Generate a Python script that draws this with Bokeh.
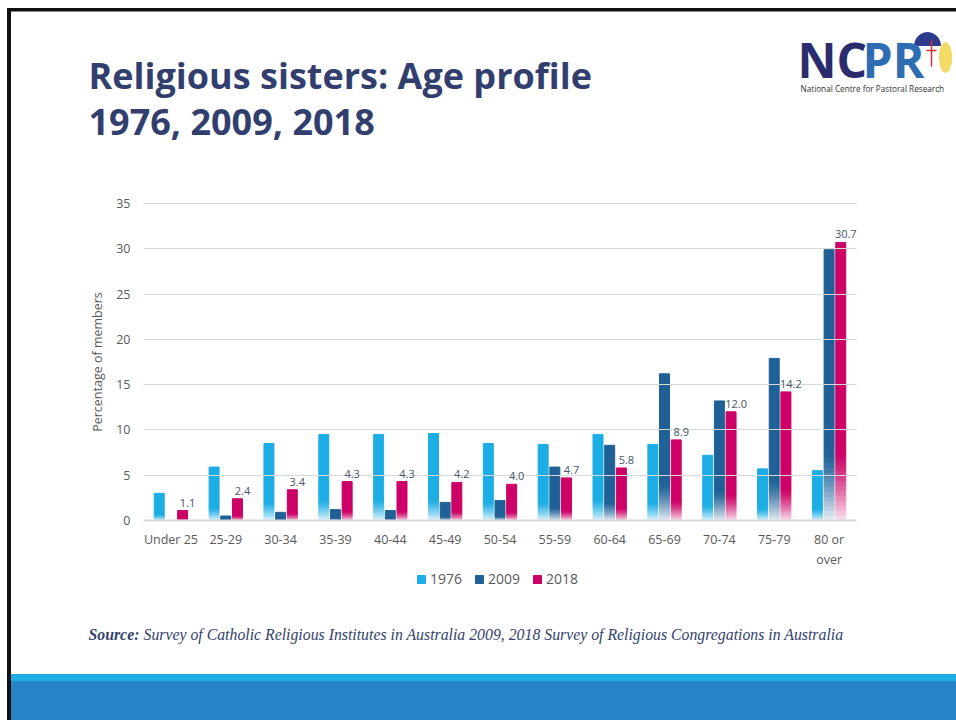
from bokeh.plotting import figure
from bokeh.models import (Range1d, Label, Legend, LegendItem, ColumnDataSource, LabelSet,
                          FixedTicker, LinearAxis)
from bokeh.core.properties import value
from bokeh.embed import file_html
from bokeh.resources import INLINE

# ---------------- data ----------------
age_groups = ["Under 25", "25-29", "30-34", "35-39", "40-44", "45-49", "50-54",
              "55-59", "60-64", "65-69", "70-74", "75-79", "80 or\nover"]
pct_1976 = [3.0, 5.9, 8.5, 9.5, 9.5, 9.6, 8.5, 8.4, 9.5, 8.4, 7.2, 5.7, 5.5]
pct_2009 = [0.0, 0.5, 0.9, 1.2, 1.1, 2.0, 2.2, 5.9, 8.3, 16.2, 13.2, 17.9, 29.9]
pct_2018 = [1.1, 2.4, 3.4, 4.3, 4.3, 4.2, 4.0, 4.7, 5.8, 8.9, 12.0, 14.2, 30.7]
series_names = ["1976", "2009", "2018"]
y_ticks = [0, 5, 10, 15, 20, 25, 30, 35]

title_lines = ["Religious sisters: Age profile", "1976, 2009, 2018"]
source_label = "Source:"
source_text = ("Survey of Catholic Religious Institutes in Australia 2009, "
               "2018 Survey of Religious Congregations in Australia")
logo_left, logo_right = "NC", "PR"
logo_sub = "National Centre for Pastoral Research"

# ---------------- layout / style ----------------
series_colors = ["#1CADE4", "#1F6196", "#CC0066"]
TEXT_GREY = "#595959"
NAVY = "#323F6E"
BORDER = "#111111"
FONT = "Open Sans"
SERIF = "Liberation Serif"
W, H = 956, 720
# plot area of the chart, in page pixels
PA_L, PA_R, PA_T, PA_B = 143, 856, 203, 520
Y_MAX = 35

n = len(age_groups)
x_px = (PA_R - PA_L) / n            # pixels per category
y_px = (PA_B - PA_T) / Y_MAX        # pixels per percent

p = figure(width=W, height=H,
           x_range=Range1d(-0.5 - PA_L / x_px, n - 0.5 + (W - PA_R) / x_px),
           y_range=Range1d(-(H - PA_B) / y_px, Y_MAX + PA_T / y_px),
           output_backend="svg", toolbar_location=None, min_border=0, title=None,
           x_axis_type=None, y_axis_type=None)
p.outline_line_color = None
p.background_fill_color = "white"
p.border_fill_color = "white"
p.grid.visible = False
# pixel coordinate system for the slide decorations
p.extra_x_ranges = {"px": Range1d(0, W)}
p.extra_y_ranges = {"px": Range1d(H, 0)}

# ---------------- axes (placed at fixed locations) ----------------
yaxis = LinearAxis(fixed_location=-0.5, bounds=(0, Y_MAX), ticker=FixedTicker(ticks=y_ticks))
yaxis.axis_line_color = None
yaxis.major_tick_in = PA_R - PA_L       # ticks stretched across as gridlines
yaxis.major_tick_out = 0
yaxis.major_tick_line_color = "#D9D9D9"
yaxis.major_tick_line_width = 1
yaxis.minor_tick_line_color = None
yaxis.major_label_standoff = 13
yaxis.major_label_text_font = FONT
yaxis.major_label_text_font_size = "12.5px"
yaxis.major_label_text_color = TEXT_GREY
yaxis.axis_label = "Percentage of members"
yaxis.axis_label_text_font = FONT
yaxis.axis_label_text_font_size = "12.5px"
yaxis.axis_label_text_font_style = "normal"
yaxis.axis_label_text_color = TEXT_GREY
yaxis.axis_label_standoff = 7
p.add_layout(yaxis, "left")

xaxis = LinearAxis(fixed_location=0, bounds=(-0.5, n - 0.5),
                   ticker=FixedTicker(ticks=list(range(n))))
xaxis.major_label_overrides = {i: lab for i, lab in enumerate(age_groups)}
xaxis.axis_line_color = "#D9D9D9"
xaxis.axis_line_width = 2
xaxis.major_tick_line_color = None
xaxis.minor_tick_line_color = None
xaxis.major_tick_out = 0
xaxis.major_tick_in = 0
xaxis.major_label_standoff = 10
xaxis.major_label_text_font = FONT
xaxis.major_label_text_font_size = "12.5px"
xaxis.major_label_text_color = TEXT_GREY
p.add_layout(xaxis, "below")


def mix(hex_color, w):
    h = hex_color.lstrip("#")
    r, g, b = (int(h[i:i + 2], 16) for i in (0, 2, 4))
    r = round(r + (255 - r) * w)
    g = round(g + (255 - g) * w)
    b = round(b + (255 - b) * w)
    return "#%02x%02x%02x" % (r, g, b)


BAR_W = 0.182   # plus a 1px outline of the same colour
OFFS = [-0.213, 0.0, 0.213]
FADE = 0.25
NSLICE = 14
idx = list(range(n))
legend_items = []
for name, vals, col, off in zip(series_names, [pct_1976, pct_2009, pct_2018], series_colors, OFFS):
    solid = ColumnDataSource(dict(x=[i + off for i in idx], top=vals,
                                  bottom=[v * FADE for v in vals]))
    r = p.vbar(x="x", top="top", bottom="bottom", width=BAR_W, source=solid,
               fill_color=col, line_color=col, line_width=1)
    legend_items.append(LegendItem(label=name, renderers=[r]))
    xs, bs, ts, cs = [], [], [], []
    for i, v in zip(idx, vals):
        if v <= 0:
            continue
        for k in range(NSLICE):
            frac = (k + 0.5) / NSLICE
            xs.append(i + off)
            bs.append(v * FADE * k / NSLICE)
            ts.append(v * FADE * (k + 1) / NSLICE)
            cs.append(mix(col, 0.9 * (1 - frac) ** 1.3))
    grad = ColumnDataSource(dict(x=xs, top=ts, bottom=bs, color=cs))
    p.vbar(x="x", top="top", bottom="bottom", width=BAR_W, source=grad,
           fill_color="color", line_color="color", line_width=1)

lab_src = ColumnDataSource(dict(x=[i + OFFS[2] for i in idx], y=pct_2018,
                                txt=["%.1f" % v for v in pct_2018]))
p.add_layout(LabelSet(x="x", y="y", text="txt", source=lab_src,
                      text_align="center", text_baseline="bottom", x_offset=5, y_offset=4,
                      text_font_size="11px", text_color="#44546A", text_font=value(FONT)))

# legend: swatch left edge at x=416, centred on y=580 (page pixels)
legend = Legend(items=legend_items, location=(416, H - 588), orientation="horizontal",
                glyph_width=10, glyph_height=10, label_text_font_size="14px",
                label_text_font=FONT, label_text_color=TEXT_GREY, label_standoff=4,
                spacing=12, padding=0, margin=0, border_line_color=None,
                background_fill_alpha=0, label_height=14)
p.add_layout(legend)

# ---------------- slide decorations (pixel coordinates) ----------------
PX = dict(x_range_name="px", y_range_name="px")
p.quad(left=[10], right=[W], top=[674], bottom=[681], color="#1EAEE4", **PX)
p.quad(left=[10], right=[W], top=[681], bottom=[H], color="#2784C6", **PX)
p.quad(left=[7], right=[W], top=[8], bottom=[10.5], color=BORDER, **PX)
p.quad(left=[7], right=[10], top=[8], bottom=[H], color=BORDER, **PX)


def text(x, y, s, size_px, color, style="normal", font=FONT):
    # y is the desired baseline; compensate the renderer's baseline offset (~0.4 em)
    p.add_layout(Label(x=x, y=y - 0.4 * size_px, text=s, text_font=font,
                       text_font_size="%.1fpx" % size_px, text_color=color,
                       text_font_style=style, text_baseline="alphabetic",
                       text_align="left", **PX))


text(88, 89, title_lines[0], 36, NAVY, "bold")
text(88, 135, title_lines[1], 36, NAVY, "bold")

# logo (approximation)
p.ellipse(x=[945], y=[57], width=[12], height=[30], color="#F3D34A", alpha=0.85, **PX)
p.wedge(x=[927], y=[45], radius=13, start_angle=0, end_angle=3.1416,
        direction="anticlock", color="#2E3A8C", **PX)
p.segment(x0=[931], y0=[40], x1=[931], y1=[66], line_color="#D0303A", line_width=1.5, **PX)
p.segment(x0=[926], y0=[50], x1=[936], y1=[50], line_color="#D0303A", line_width=1.5, **PX)
text(797, 78, logo_left, 48, "#2A2C6E", "bold")
text(862, 78, logo_right, 48, "#2E6DB4", "bold")
text(800, 91, logo_sub, 8.2, "#333333")

text(88, 640, source_label, 15.8, NAVY, "bold italic", SERIF)
text(143, 640, source_text, 15.8, NAVY, "italic", SERIF)

open("out.html", "w").write(file_html(p, INLINE))
